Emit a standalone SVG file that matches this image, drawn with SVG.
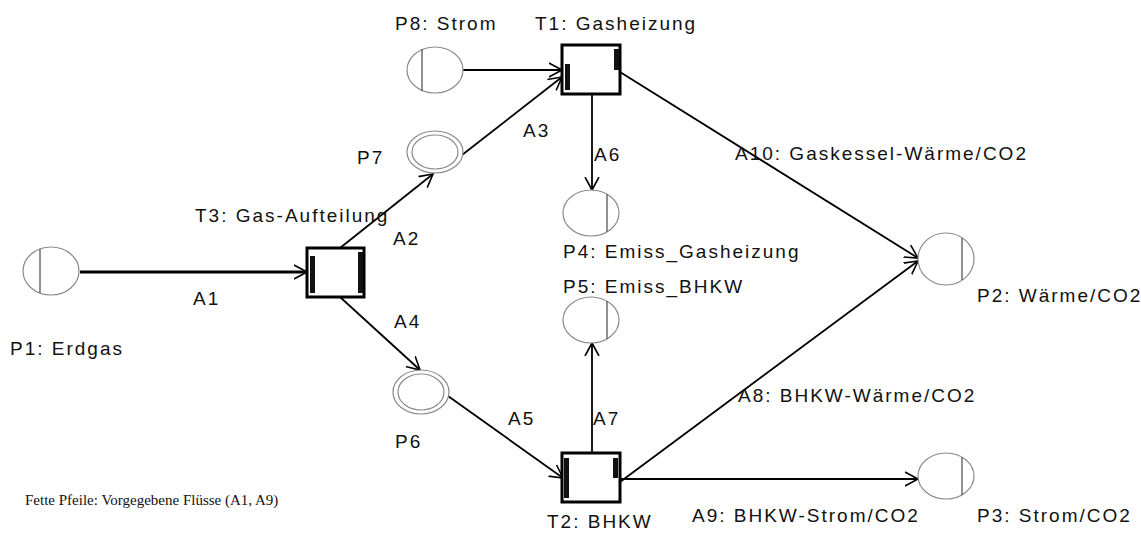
<svg xmlns="http://www.w3.org/2000/svg" width="1141" height="535" viewBox="0 0 1141 535">
<defs>
<marker id="arr" markerUnits="userSpaceOnUse" markerWidth="16" markerHeight="16" refX="13" refY="8" orient="auto">
<path d="M0,1 L13,8 L0,15" fill="none" stroke="#000" stroke-width="1.6"/>
</marker>
</defs>
<style>
.place{fill:#fff;stroke:#8a8a8a;stroke-width:1.2}
.pl{stroke:#555;stroke-width:1.3}
.trans{fill:#fff;stroke:#000;stroke-width:3}
.bar{fill:#111}
.arc{fill:none;stroke:#000;stroke-width:1.8;marker-end:url(#arr)}
.bold{stroke-width:3}
text{font-family:"Liberation Sans",Arial,sans-serif;font-size:19px;fill:#111;letter-spacing:2px}
.note{font-family:"Liberation Serif","Times New Roman",serif;font-size:15px;letter-spacing:0}
</style>
<rect width="1141" height="535" fill="#fff"/>
<g id="connectors">
<line class="arc bold" x1="80" y1="272" x2="307" y2="272"/>
<line class="arc" x1="340" y1="248" x2="433" y2="174"/>
<line class="arc" x1="462" y1="155" x2="562" y2="77"/>
<line class="arc" x1="463" y1="70" x2="562" y2="70"/>
<line class="arc" x1="592" y1="94" x2="592" y2="190"/>
<line class="arc" x1="620" y1="72" x2="918" y2="258"/>
<line class="arc" x1="340" y1="297" x2="420" y2="370"/>
<line class="arc" x1="448" y1="396" x2="563" y2="478"/>
<line class="arc" x1="592" y1="453" x2="592" y2="343"/>
<line class="arc" x1="620" y1="482" x2="918" y2="261"/>
<line class="arc" x1="620" y1="479" x2="918" y2="479"/>
</g>
<g id="P1"><ellipse class="place" cx="51" cy="271" rx="28" ry="24"/><line class="pl" x1="40" y1="249" x2="40" y2="293"/></g>
<g id="P8"><ellipse class="place" cx="435" cy="70" rx="28" ry="23"/><line class="pl" x1="422" y1="49" x2="422" y2="91"/></g>
<g id="P7"><ellipse class="place" cx="435" cy="152" rx="28" ry="21"/><ellipse class="place" cx="435" cy="152" rx="23" ry="17"/></g>
<g id="P4"><ellipse class="place" cx="591" cy="213" rx="28" ry="23"/><line class="pl" x1="607" y1="194" x2="607" y2="232"/></g>
<g id="P5"><ellipse class="place" cx="591" cy="320" rx="28" ry="23"/><line class="pl" x1="607" y1="301" x2="607" y2="339"/></g>
<g id="P6"><ellipse class="place" cx="421" cy="392" rx="28" ry="22"/><ellipse class="place" cx="421" cy="392" rx="23" ry="18"/></g>
<g id="P2"><ellipse class="place" cx="946" cy="259" rx="28" ry="26"/><line class="pl" x1="962" y1="238" x2="962" y2="280"/></g>
<g id="P3"><ellipse class="place" cx="946" cy="476" rx="28" ry="23"/><line class="pl" x1="962" y1="457" x2="962" y2="495"/></g>
<g id="T3"><rect class="trans" x="307" y="248" width="57" height="49"/><rect class="bar" x="310" y="256" width="5" height="37"/><rect class="bar" x="358" y="252" width="5" height="41"/></g>
<g id="T1"><rect class="trans" x="562" y="45" width="58" height="49"/><rect class="bar" x="565" y="64" width="5" height="26"/><rect class="bar" x="614" y="49" width="5" height="21"/></g>
<g id="T2"><rect class="trans" x="562" y="453" width="58" height="49"/><rect class="bar" x="564" y="458" width="5" height="40"/><rect class="bar" x="613" y="458" width="5" height="20"/></g>
<g id="labels">
<text x="395" y="30">P8: Strom</text>
<text x="535" y="30">T1: Gasheizung</text>
<text x="357" y="164">P7</text>
<text x="523" y="137">A3</text>
<text x="594" y="161">A6</text>
<text x="735" y="160">A10: Gaskessel-Wärme/CO2</text>
<text x="195" y="222">T3: Gas-Aufteilung</text>
<text x="393" y="245">A2</text>
<text x="563" y="258">P4: Emiss_Gasheizung</text>
<text x="563" y="293">P5: Emiss_BHKW</text>
<text x="977" y="302">P2: Wärme/CO2</text>
<text x="193" y="305">A1</text>
<text x="394" y="328">A4</text>
<text x="10" y="355">P1: Erdgas</text>
<text x="738" y="402">A8: BHKW-Wärme/CO2</text>
<text x="508" y="425">A5</text>
<text x="593" y="425">A7</text>
<text x="395" y="448">P6</text>
<text x="692" y="522">A9: BHKW-Strom/CO2</text>
<text x="547" y="528">T2: BHKW</text>
<text x="977" y="522">P3: Strom/CO2</text>
<text class="note" x="25" y="505">Fette Pfeile: Vorgegebene Flüsse (A1, A9)</text>
</g>
</svg>
